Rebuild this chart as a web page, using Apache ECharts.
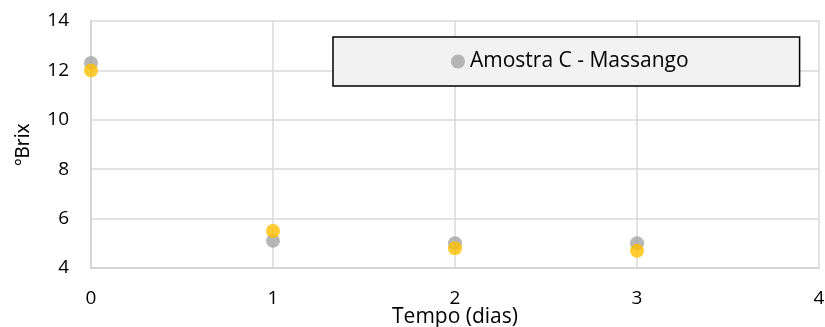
<!DOCTYPE html>
<html>
<head>
<meta charset="utf-8">
<script src="https://cdn.jsdelivr.net/npm/echarts@6/dist/echarts.min.js"></script>
<style>
html,body{margin:0;padding:0;background:#fff;}
#chart{width:825px;height:327px;}
</style>
</head>
<body>
<div id="chart"></div>
<script>
// Tempo (dias) and ºBrix readings
const tempo = [0, 1, 2, 3];
const brixMassango = [12.3, 5.1, 5.0, 5.0];
const brixSerie2 = [12.0, 5.5, 4.8, 4.7];
const seriesNames = ['Amostra C - Massango', 'Série 2'];

const font = '"Open Sans", "Liberation Sans", sans-serif';
const pairs = (xs, ys) => xs.map((x, i) => [x, ys[i]]);

const chart = echarts.init(document.getElementById('chart'), null, { renderer: 'canvas' });
chart.setOption({
  animation: false,
  backgroundColor: '#fff',
  grid: { left: 91, right: 6, top: 21, bottom: 59, outerBoundsMode: 'none', containLabel: false },
  legend: {
    data: [seriesNames[0]],
    left: 333,
    top: 37,
    padding: [14, 111, 14, 118],
    itemWidth: 14,
    itemHeight: 14,
    itemGap: 5,
    backgroundColor: '#f2f2f2',
    borderColor: '#000',
    borderWidth: 1.5,
    textStyle: { fontFamily: font, fontSize: 21, color: '#000' }
  },
  xAxis: {
    type: 'value',
    min: 0, max: 4, interval: 1,
    name: 'Tempo (dias)',
    nameLocation: 'middle',
    nameGap: 39,
    nameMoveOverlap: false,
    nameTextStyle: { fontFamily: font, fontSize: 21, color: '#000' },
    axisLine: { show: true, lineStyle: { color: '#d0d0d0', width: 1.5 } },
    axisTick: { show: false },
    axisLabel: { fontFamily: font, fontSize: 19, color: '#000', margin: 21 },
    splitLine: { show: true, lineStyle: { color: '#d9d9d9', width: 1.5 } }
  },
  yAxis: {
    type: 'value',
    min: 4, max: 14, interval: 2,
    name: 'ºBrix',
    nameLocation: 'middle',
    nameGap: 58,
    nameMoveOverlap: false,
    nameRotate: 90,
    nameTextStyle: { fontFamily: '"Noto Sans", sans-serif', fontSize: 19, color: '#000' },
    axisLine: { show: true, lineStyle: { color: '#d0d0d0', width: 1.5 } },
    axisTick: { show: false },
    axisLabel: { fontFamily: font, fontSize: 19, color: '#000', margin: 22 },
    splitLine: { show: true, lineStyle: { color: '#d9d9d9', width: 1.5 } }
  },
  series: [
    {
      name: seriesNames[0],
      type: 'scatter',
      symbol: 'circle',
      symbolSize: 14,
      itemStyle: { color: '#a5a5a5' },
      data: pairs(tempo, brixMassango)
    },
    {
      name: seriesNames[1],
      type: 'scatter',
      symbol: 'circle',
      symbolSize: 14,
      itemStyle: { color: '#ffc000' },
      data: pairs(tempo, brixSerie2)
    }
  ]
});
</script>
</body>
</html>
